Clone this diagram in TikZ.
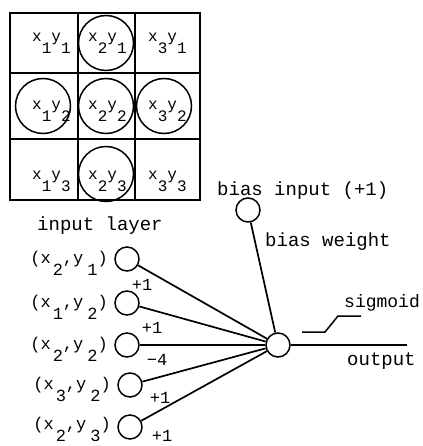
\documentclass[tikz,border=0pt]{standalone}
\usepackage{fontspec}
\setmainfont{Liberation Mono}
\usepackage{tikz}

\newcommand{\lo}[2][0.7em]{\raisebox{-#1}{#2}}
\newcommand{\cellxy}[2]{x\lo{#1}y\lo{#2}}
\newcommand{\inxy}[2]{(x\hspace{2pt}\lo[0.75em]{#1},y\hspace{4pt}\lo[0.75em]{#2})}

\begin{document}
\begin{tikzpicture}[
      x=1pt, y=-1pt,
      field/.style = {
        circle, draw=black, line width=1.5pt,
        minimum size=55pt, inner sep=0pt
      },
      unit/.style = {
        circle, draw=black, line width=1.5pt,
        minimum size=24pt, inner sep=0pt
      },
      cell/.style = {anchor=base west, inner sep=0pt, font=\fontsize{16}{18}\selectfont},
      inlab/.style = {anchor=base east, inner sep=0pt, font=\fontsize{17}{19}\selectfont},
      txt/.style = {anchor=base west, inner sep=0pt, font=\fontsize{19}{21}\selectfont},
      wgt/.style = {inner sep=0pt, font=\fontsize{17}{19}\selectfont},
      link/.style = {line width=1.7pt}
    ]

    \useasboundingbox (0,0) rectangle (422,446);

    \draw[line width=2.2pt] (10,13) rectangle (200,200);
    \draw[line width=1.2pt] (78,13) -- (78,200);
    \draw[line width=1.2pt] (135,13) -- (135,200);
    \draw[line width=1.2pt] (10,73) -- (200,73);
    \draw[line width=1.2pt] (10,139) -- (200,139);

    \node[field] (f21) at (106, 43) {};
    \node[field] (f12) at ( 43,106) {};
    \node[field] (f22) at (106,106) {};
    \node[field] (f32) at (164,106) {};
    \node[field] (f23) at (106,174) {};

    \node[cell] (c11) at ( 32, 42) {\cellxy{1}{1}};
    \node[cell] (c21) at ( 88, 42) {\cellxy{2}{1}};
    \node[cell] (c31) at (148, 42) {\cellxy{3}{1}};
    \node[cell] (c12) at ( 32,110) {\cellxy{1}{2}};
    \node[cell] (c22) at ( 88,110) {\cellxy{2}{2}};
    \node[cell] (c32) at (148,110) {\cellxy{3}{2}};
    \node[cell] (c13) at ( 32,180) {\cellxy{1}{3}};
    \node[cell] (c23) at ( 88,180) {\cellxy{2}{3}};
    \node[cell] (c33) at (148,180) {\cellxy{3}{3}};

    \node[txt] (inlayer) at (37,230) {input layer};

    \node[unit] (in1) at (127,259) {};
    \node[unit] (in2) at (127,303) {};
    \node[unit] (in3) at (127,345) {};
    \node[unit] (in4) at (130,385) {};
    \node[unit] (in5) at (130,427) {};

    \node[inlab] (l1) at (108,263) {\inxy{2}{1}};
    \node[inlab] (l2) at (108,307) {\inxy{1}{2}};
    \node[inlab] (l3) at (108,349) {\inxy{2}{2}};
    \node[inlab] (l4) at (111,389) {\inxy{3}{2}};
    \node[inlab] (l5) at (111,429) {\inxy{2}{3}};

    \node[unit] (bias) at (248,210) {};
    \node[unit] (out)  at (278,345) {};
    \coordinate (outend) at (407,345);

    \node[txt] (biasin) at (217,196) {bias input (+1)};
    \node[txt] (biasw)  at (265,246) {bias weight};
    \node[txt, font=\fontsize{18}{20}\selectfont] (sig) at (344,307) {sigmoid};
    \node[txt] (outlab) at (347,365) {output};

    \draw[link] (in1) -- (out);
    \draw[link] (in2) -- (out);
    \draw[link] (in3) -- (out);
    \draw[link] (in4) -- (out);
    \draw[link] (in5) -- (out);
    \draw[link] (bias) -- (out);
    \draw[link] (out) -- (outend);

    \draw[line width=1.5pt] (302,332) -- (325,332) -- (338,316) -- (361,316);

    \node[wgt] (w1) at (142,285) {+1};
    \node[wgt] (w2) at (152,328) {+1};
    \node[wgt] (w3) at (157,360) {−4};
    \node[wgt] (w4) at (160,398) {+1};
    \node[wgt] (w5) at (162,436) {+1};

  \end{tikzpicture}
\end{document}
